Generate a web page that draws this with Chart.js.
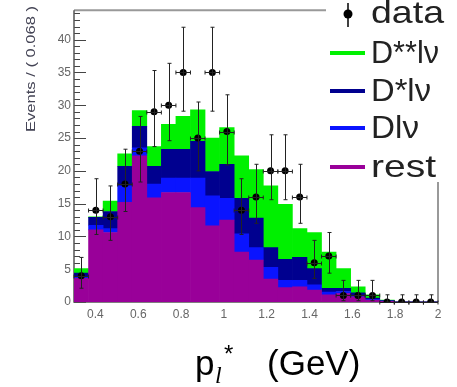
<!DOCTYPE html>
<html>
<head>
<meta charset="utf-8">
<script src="https://cdn.jsdelivr.net/npm/chart.js@4"></script>
<style>
  html, body { margin: 0; padding: 0; background: #fff; }
</style>
</head>
<body>
<canvas id="myChart" width="457" height="387"></canvas>
<script>
// bin centres of the p_l* histogram (GeV), 25 bins from 0.3 to 2.0
var binCenters = [0.334, 0.402, 0.470, 0.538, 0.606, 0.674, 0.742, 0.810, 0.878, 0.946,
  1.014, 1.082, 1.150, 1.218, 1.286, 1.354, 1.422, 1.490, 1.558, 1.626,
  1.694, 1.762, 1.830, 1.898, 1.966]

// stacked MC components, bottom to top
var rest = [3.6, 11.0, 10.6, 15.2, 22.3, 15.9, 16.7, 16.7, 14.4, 11.6, 12.5, 7.6, 6.4, 3.5, 2.2, 2.3, 1.8, 1.1, 1.3, 0.8, 0.3, 0.1, 0, 0, 0]
var dlnu = [0.2, 0.7, 0.6, 2.5, 1.2, 2.1, 2.2, 2.2, 4.5, 4.6, 3.3, 2.8, 1.9, 1.8, 1.1, 1.0, 0.8, 0.4, 0.3, 0.2, 0.1, 0.05, 0, 0, 0]
var dstarlnu = [0.6, 1.2, 2.6, 3.0, 3.3, 2.7, 4.4, 4.4, 5.6, 3.7, 5.2, 5.4, 4.5, 3.0, 3.2, 3.5, 2.5, 0.6, 0.5, 0.4, 0.2, 0.05, 0, 0, 0]
var dstarstarlnu = [0.7, 0.1, 1.6, 1.9, 2.4, 3.0, 3.8, 5.0, 4.8, 5.1, 5.6, 6.5, 7.4, 9.4, 8.4, 4.4, 5.5, 5.5, 3.0, 0.9, 0.5, 0.1, 0, 0, 0]

// data points with their error bar ends
var counts = [4, 14, 13, 18, 23, 29, 30, 35, 25, 35, 26, 14, 16, 20, 20, 16, 6, 7, 1, 1, 1, 0, 0, 0, 0]
var errLow = [2.1, 10.3, 9.4, 13.8, 18.3, 23.7, 24.6, 29.1, 20.0, 29.1, 20.9, 10.3, 12.0, 15.6, 15.6, 12.0, 3.6, 4.4, 0.2, 0.2, 0.2, 0, 0, 0, 0]
var errHigh = [6.8, 18.8, 17.7, 23.3, 28.3, 35.3, 36.4, 41.9, 30.5, 41.9, 31.6, 18.8, 21.0, 25.5, 25.5, 21.0, 9.4, 10.6, 3.3, 3.3, 3.3, 1.1, 1.1, 1.1, 1.1]
var binHalf = 0.034

var legendLabels = ['data', 'D**lν', 'D*lν', 'Dlν', 'rest']
var colors = { dss: '#00f000', ds: '#00008f', d: '#0a14ff', rest: '#990099' }

function xy(vals) {
  return vals.map(function (v, i) { return { x: binCenters[i], y: v } })
}

var frame = {
  id: 'frame',
  beforeDatasetsDraw: function (chart) {
    var c = chart.ctx, a = chart.chartArea, y = chart.scales.y
    c.save()
    c.strokeStyle = '#444'
    c.lineWidth = 1
    for (var v = 0; v <= 44; v++) {
      var py = Math.round(y.getPixelForValue(v)) + 0.5
      var len = v % 5 === 0 ? 12 : 6
      c.beginPath(); c.moveTo(a.left, py); c.lineTo(a.left + len, py); c.stroke()
    }
    c.strokeStyle = '#999'
    c.lineWidth = 2
    c.beginPath()
    c.moveTo(a.left, a.top); c.lineTo(a.right, a.top); c.lineTo(a.right, a.bottom)
    c.stroke()
    c.strokeStyle = '#555'
    c.lineWidth = 1.5
    c.beginPath(); c.moveTo(a.left, a.top); c.lineTo(a.left, a.bottom); c.lineTo(a.right, a.bottom); c.stroke()
    c.restore()
  },
  afterDatasetsDraw: function (chart) {
    var c = chart.ctx, xs = chart.scales.x, ys = chart.scales.y
    c.save()
    c.strokeStyle = '#222'
    c.lineWidth = 1
    counts.forEach(function (n, i) {
      var px = Math.round(xs.getPixelForValue(binCenters[i])) + 0.5
      var py = Math.round(ys.getPixelForValue(n)) + 0.5
      var lo = ys.getPixelForValue(errLow[i]), hi = ys.getPixelForValue(errHigh[i])
      var l = xs.getPixelForValue(binCenters[i] - binHalf), r = xs.getPixelForValue(binCenters[i] + binHalf)
      c.beginPath()
      c.moveTo(px, lo); c.lineTo(px, hi)
      c.moveTo(px - 2, hi); c.lineTo(px + 2, hi)
      c.moveTo(px - 2, lo); c.lineTo(px + 2, lo)
      c.moveTo(l, py); c.lineTo(r, py)
      c.moveTo(l, py - 2); c.lineTo(l, py + 2)
      c.moveTo(r, py - 2); c.lineTo(r, py + 2)
      c.stroke()
    })
    c.restore()
  },
  afterDraw: function (chart) {
    var c = chart.ctx
    c.save()
    // legend
    c.fillStyle = '#fff'
    c.fillRect(326, 0, 131, 182)
    c.font = '32px "Liberation Sans", Arial, sans-serif'
    c.textBaseline = 'middle'
    var ys = [13, 53, 91, 128, 167]
    var widths = [73, 68, 60, 48, 65]
    var lc = [null, colors.dss, colors.ds, colors.d, colors.rest]
    legendLabels.forEach(function (t, i) {
      c.save()
      c.fillStyle = '#222'
      c.translate(371, ys[i] + 1)
      c.scale(widths[i] / c.measureText(t).width, 1)
      c.fillText(t, 0, 0)
      c.restore()
      if (i === 0) {
        c.strokeStyle = '#000'; c.lineWidth = 1.5
        c.beginPath(); c.moveTo(348, 3); c.lineTo(348, 27); c.stroke()
        c.fillStyle = '#000'
        c.beginPath(); c.arc(348, 14, 4.5, 0, Math.PI * 2); c.fill()
      } else {
        c.strokeStyle = lc[i]; c.lineWidth = 4
        c.beginPath(); c.moveTo(330, ys[i]); c.lineTo(365, ys[i]); c.stroke()
      }
    })
    // y title
    c.save()
    c.translate(31, 69)
    c.rotate(-Math.PI / 2)
    c.fillStyle = '#445'
    c.font = '13px "Liberation Sans", Arial, sans-serif'
    c.textAlign = 'center'
    c.textBaseline = 'middle'
    var yt = 'Events / ( 0.068 )'
    c.scale(126 / c.measureText(yt).width, 1)
    c.fillText(yt, 0, 0)
    c.restore()
    // x title
    c.fillStyle = '#000'
    c.textBaseline = 'alphabetic'
    c.font = '35px "Liberation Sans", Arial, sans-serif'
    c.fillText('p', 195, 375)
    c.font = 'italic 24px "Liberation Serif", serif'
    c.fillText('l', 215, 383)
    c.font = '24px "Liberation Sans", Arial, sans-serif'
    c.fillText('*', 224, 362)
    c.font = '35px "Liberation Sans", Arial, sans-serif'
    c.fillText('(GeV)', 267, 375)
    c.restore()
  }
}

var bars = function (label, vals, color) {
  return { type: 'bar', label: label, data: xy(vals), backgroundColor: color, borderWidth: 0,
    categoryPercentage: 1, barPercentage: 1, order: 1 }
}

var ctx = document.getElementById('myChart').getContext('2d')
var myChart = new Chart(ctx, {
  type: 'bar',
  data: {
    datasets: [
      { type: 'scatter', label: 'data', data: xy(counts), stack: 'data', order: 0,
        pointRadius: 3.5, pointBackgroundColor: '#000', pointBorderWidth: 0, showLine: false },
      bars('rest', rest, colors.rest),
      bars('Dlν', dlnu, colors.d),
      bars('D*lν', dstarlnu, colors.ds),
      bars('D**lν', dstarstarlnu, colors.dss)
    ]
  },
  options: {
    responsive: false,
    animation: false,
    layout: { padding: { top: 8, right: 19, left: 0, bottom: 0 } },
    plugins: { legend: { display: false }, tooltip: { enabled: false } },
    scales: {
      x: {
        type: 'linear', stacked: true, offset: false, min: 0.3, max: 2.0,
        grid: { display: false, drawTicks: false }, border: { display: false },
        ticks: { stepSize: 0.2, includeBounds: false, autoSkip: false, maxRotation: 0, padding: 5,
          color: '#666', font: { size: 12, family: 'Liberation Sans' },
          callback: function (v) { return String(+v.toFixed(2)) } },
        afterFit: function (s) { s.height = 85 }
      },
      y: {
        stacked: true, min: 0, max: 44.5,
        grid: { display: false, drawTicks: false }, border: { display: false },
        ticks: { stepSize: 5, includeBounds: false, padding: 3,
          color: '#666', font: { size: 12, family: 'Liberation Sans' } },
        afterFit: function (s) { s.width = 74 }
      }
    }
  },
  plugins: [frame]
})
</script>
</body>
</html>
